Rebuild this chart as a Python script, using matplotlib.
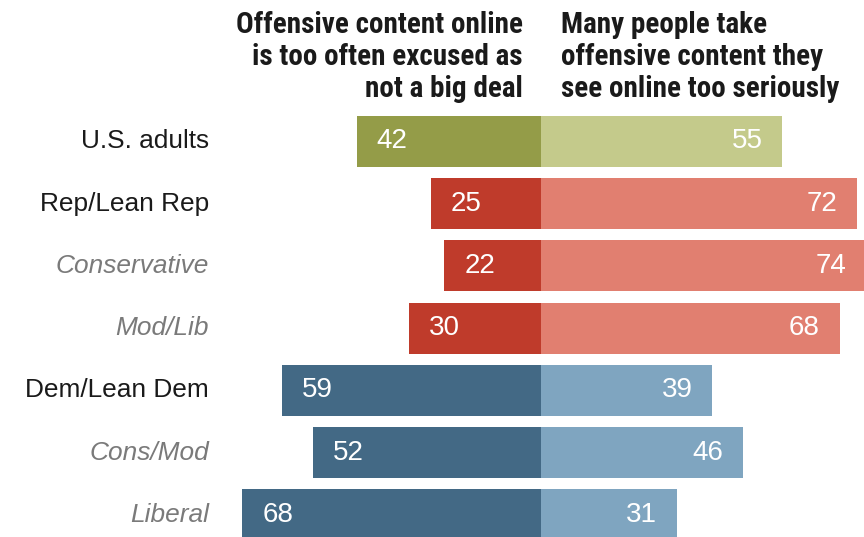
import numpy as np
import matplotlib
matplotlib.use('Agg')
import matplotlib.pyplot as plt

# Survey groups, top to bottom
groups = ['U.S. adults', 'Rep/Lean Rep', 'Conservative', 'Mod/Lib',
          'Dem/Lean Dem', 'Cons/Mod', 'Liberal']
italic = [False, False, True, True, False, True, True]

# % saying offensive content online is too often excused as not a big deal
excused = [42, 25, 22, 30, 59, 52, 68]
# % saying many people take offensive content they see online too seriously
serious = [55, 72, 74, 68, 39, 46, 31]

dark_colors = ['#949c48', '#bf3b2b', '#bf3b2b', '#bf3b2b', '#436985', '#436985', '#436985']
light_colors = ['#c4ca8b', '#e17f70', '#e17f70', '#e17f70', '#7fa5c0', '#7fa5c0', '#7fa5c0']

header_left = ['Offensive content online', 'is too often excused as', 'not a big deal']
header_right = ['Many people take', 'offensive content they', 'see online too seriously']

W, H = 864, 537
fig = plt.figure(figsize=(W / 100, H / 100), dpi=100)
ax = fig.add_axes([0, 0, 1, 1])
ax.axis('off')

# horizontal scale: zero line at x=541 px, 4.39 px per point
px_per_unit = 4.39
x0 = 541
ax.set_xlim(-x0 / px_per_unit, (W - x0) / px_per_unit)
# vertical: first row centred at 141.5 px, 62.2 px between rows
row0, pitch = 141.5, 62.2
ax.set_ylim((H - row0) / pitch, -row0 / pitch)

y = np.arange(len(groups))
ax.barh(y, [-v for v in excused], height=0.82, color=dark_colors, linewidth=0)
ax.barh(y, serious, height=0.82, color=light_colors, linewidth=0)

sans = ['Liberation Sans', 'DejaVu Sans']
num_font = dict(family=sans, fontsize=20, color='white')
pad = 4.5
for i in range(len(groups)):
    ax.text(-excused[i] + pad, y[i], str(excused[i]), ha='left', va='center', **num_font)
    ax.text(serious[i] - pad, y[i], str(serious[i]), ha='right', va='center', **num_font)
    ax.text(209 / W, y[i], groups[i], transform=ax.get_yaxis_transform(),
            ha='right', va='center', fontsize=18.9, family=sans,
            style='italic' if italic[i] else 'normal',
            color='#7a7a7a' if italic[i] else '#1a1a1a')

head_font = dict(family=['Roboto Condensed', 'Liberation Sans Narrow', 'Roboto', 'DejaVu Sans'],
                 fontweight='bold', fontsize=21, color='#1a1a1a')
baselines = [33, 65, 97]
for line_l, line_r, b in zip(header_left, header_right, baselines):
    fig.text(523 / W, 1 - b / H, line_l, ha='right', va='baseline', **head_font)
    fig.text(561 / W, 1 - b / H, line_r, ha='left', va='baseline', **head_font)

fig.savefig('out.png', dpi=100)
